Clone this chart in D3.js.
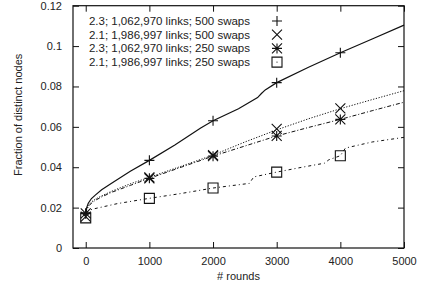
<!DOCTYPE html>
<html>
<head>
<meta charset="utf-8">
<script src="https://cdn.jsdelivr.net/npm/d3@7"></script>
<style>
  body { margin: 0; background: #fff; }
  text { font-family: "Liberation Sans", Arial, sans-serif; fill: #222; }
</style>
</head>
<body>
<script>
// consts
const width = 423, height = 286;
const margin = {top: 5.7, right: 19, bottom: 38, left: 73};

// data
const legendLabels = [
  "2.3; 1,062,970 links; 500 swaps",
  "2.1; 1,986,997 links; 500 swaps",
  "2.3; 1,062,970 links; 250 swaps",
  "2.1; 1,986,997 links; 250 swaps"
];
const markerRounds = [0, 1000, 2000, 3000, 4000];

// [rounds, fraction]
const s1Line = [[0,0.017],[15,0.02],[40,0.0222],[90,0.0245],[150,0.0262],[250,0.0288],[400,0.032],[700,0.038],[1000,0.0434],[1400,0.051],[1800,0.0593],[2000,0.063],[2400,0.069],[2700,0.0745],[2760,0.0765],[2820,0.0783],[3000,0.0819],[3500,0.0895],[4000,0.0967],[4500,0.1035],[5000,0.1104]];
const s2Line = [[0,0.017],[15,0.0192],[40,0.021],[90,0.0228],[150,0.0242],[250,0.0258],[400,0.028],[700,0.0318],[1000,0.035],[1500,0.0405],[2000,0.046],[2500,0.0525],[3000,0.0585],[3500,0.064],[4000,0.069],[4500,0.0735],[5000,0.0779]];
const s3Line = [[0,0.017],[15,0.0188],[40,0.0205],[90,0.0222],[150,0.0236],[250,0.0253],[400,0.0275],[700,0.031],[1000,0.0345],[1500,0.040],[2000,0.0455],[2500,0.0505],[3000,0.0555],[3500,0.0597],[4000,0.0637],[4500,0.068],[5000,0.0722]];
const s4Line = [[0,0.0175],[100,0.0192],[500,0.022],[1000,0.0246],[1500,0.027],[2000,0.0297],[2570,0.032],[2640,0.0352],[3000,0.0376],[3400,0.04],[3750,0.042],[3820,0.0437],[4000,0.0457],[4080,0.0495],[4500,0.0525],[5000,0.0548]];

const s1Marks = [0.017, 0.0434, 0.063, 0.0819, 0.0967];
const s2Marks = [0.0155, 0.035, 0.046, 0.059, 0.0692];
const s3Marks = [0.0172, 0.0345, 0.0455, 0.0555, 0.0637];
const s4Marks = [0.0149, 0.0246, 0.0297, 0.0376, 0.0457];

const xTicks = [0, 1000, 2000, 3000, 4000, 5000];
const yTicks = [0, 0.02, 0.04, 0.06, 0.08, 0.1, 0.12];

const series = [
  {line: s1Line, marks: s1Marks, shape: "plus",  dash: null,      width: 1.2},
  {line: s2Line, marks: s2Marks, shape: "cross", dash: "1.2,1.6", width: 1},
  {line: s3Line, marks: s3Marks, shape: "star",  dash: "4,2,1,2", width: 1},
  {line: s4Line, marks: s4Marks, shape: "box",   dash: "3,3,1,3", width: 1}
];

// scales
const x = d3.scaleLinear().domain([-200, 5000]).range([margin.left, width - margin.right]);
const y = d3.scaleLinear().domain([0, 0.12]).range([height - margin.bottom, margin.top]);

const svg = d3.select("body").append("svg")
  .attr("width", width).attr("height", height);

// axes, ticks drawn inwards on all sides
const tk = 6;
const axBottom = svg.append("g")
  .attr("transform", "translate(0," + y(0) + ")")
  .call(d3.axisBottom(x).tickValues(xTicks).tickSize(-tk).tickPadding(9).tickFormat(d3.format("d")));
const axTop = svg.append("g")
  .attr("transform", "translate(0," + y(0.12) + ")")
  .call(d3.axisTop(x).tickValues(xTicks).tickSize(-tk).tickFormat(""));
const axLeft = svg.append("g")
  .attr("transform", "translate(" + x(-200) + ",0)")
  .call(d3.axisLeft(y).tickValues(yTicks).tickSize(-tk).tickPadding(11).tickFormat(d => d === 0 ? "0" : d3.format(".2~f")(d)));
const axRight = svg.append("g")
  .attr("transform", "translate(" + x(5000) + ",0)")
  .call(d3.axisRight(y).tickValues(yTicks).tickSize(-tk).tickFormat(""));

[axBottom, axTop, axLeft, axRight].forEach(g => {
  g.select(".domain").remove();
  g.selectAll("line").attr("stroke", "#111");
  g.selectAll("text").style("font-size", "11px").attr("fill", "#222");
});

// frame
svg.append("rect")
  .attr("x", x(-200)).attr("y", y(0.12))
  .attr("width", x(5000) - x(-200)).attr("height", y(0) - y(0.12))
  .attr("fill", "none").attr("stroke", "#111").attr("stroke-width", 1.2);

// axis titles
svg.append("text")
  .attr("x", (x(-200) + x(5000)) / 2).attr("y", 280)
  .attr("text-anchor", "middle").style("font-size", "11px")
  .text("# rounds");
svg.append("text")
  .attr("transform", "translate(22," + ((y(0) + y(0.12)) / 2 - 12) + ") rotate(-90)")
  .attr("text-anchor", "middle").style("font-size", "11px")
  .text("Fraction of distinct nodes");

// lines
const line = d3.line().x(d => x(d[0])).y(d => y(d[1]));
series.forEach(s => {
  svg.append("path")
    .datum(s.line)
    .attr("d", line)
    .attr("fill", "none")
    .attr("stroke", "#111")
    .attr("stroke-width", s.width)
    .attr("stroke-dasharray", s.dash);
});

// marker shapes
function drawMark(g, shape, cx, cy) {
  const r = 5;
  const p = d3.path();
  if (shape === "plus" || shape === "star") {
    p.moveTo(cx - r, cy); p.lineTo(cx + r, cy);
    p.moveTo(cx, cy - r); p.lineTo(cx, cy + r);
  }
  if (shape === "cross" || shape === "star") {
    p.moveTo(cx - r, cy - r); p.lineTo(cx + r, cy + r);
    p.moveTo(cx - r, cy + r); p.lineTo(cx + r, cy - r);
  }
  if (shape === "box") {
    p.rect(cx - 5, cy - 5, 10, 10);
  }
  g.append("path").attr("d", p.toString())
    .attr("fill", "none").attr("stroke", "#111").attr("stroke-width", 1.1);
}

series.forEach(s => {
  const g = svg.append("g");
  markerRounds.forEach((r, i) => drawMark(g, s.shape, x(r), y(s.marks[i])));
});

// legend
const legend = svg.append("g");
legendLabels.forEach((lab, i) => {
  const ly = 21 + i * 13.7;
  legend.append("text")
    .attr("x", 250).attr("y", ly + 4)
    .attr("text-anchor", "end").style("font-size", "11.5px")
    .text(lab);
  drawMark(legend, series[i].shape, 277, ly);
  if (series[i].shape === "box") {
    legend.append("circle").attr("cx", 277).attr("cy", ly).attr("r", 0.6).attr("fill", "#111");
  }
});
</script>
</body>
</html>
